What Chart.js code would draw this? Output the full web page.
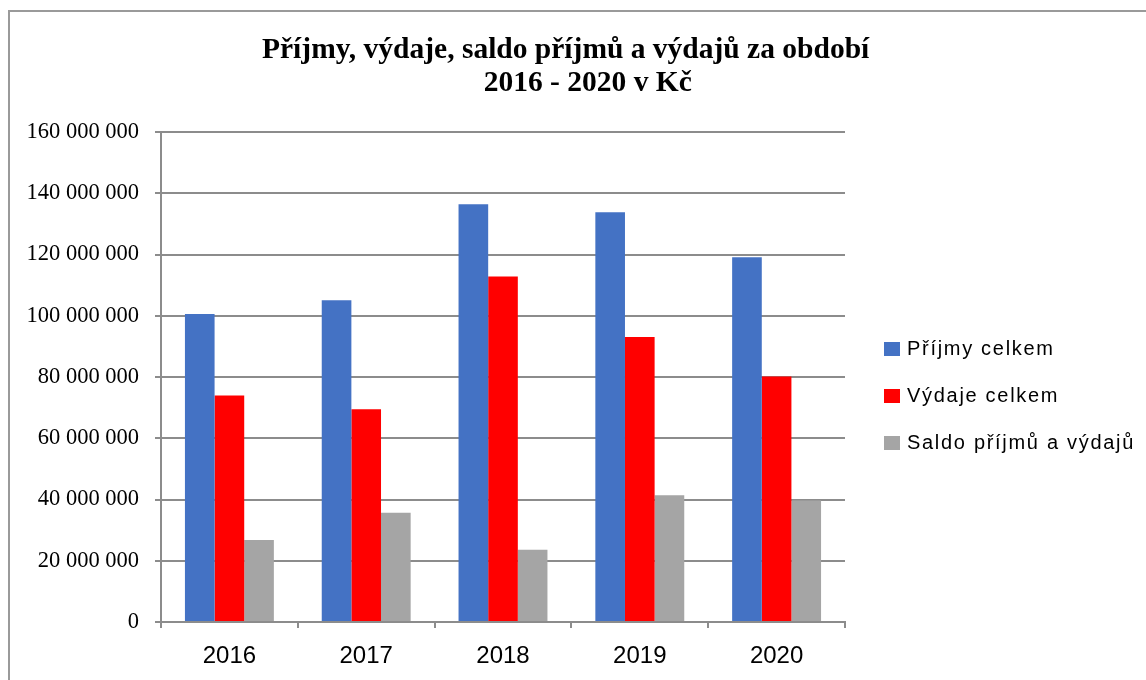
<!DOCTYPE html>
<html lang="cs">
<head>
<meta charset="utf-8">
<title>Příjmy, výdaje, saldo příjmů a výdajů 2016 - 2020</title>
<script src="https://cdn.jsdelivr.net/npm/chart.js@4.4.1/dist/chart.umd.min.js"></script>
<style>
  html, body { margin: 0; padding: 0; background: #fff; }
  #wrap { position: relative; width: 1146px; height: 680px; overflow: hidden; }
  #frame {
    position: absolute; left: 8px; top: 10px; width: 1200px; height: 700px;
    border-top: 2px solid #9a9a9a; border-left: 2px solid #9a9a9a;
  }
  #chart { position: absolute; left: 0; top: 0; }
  #legend {
    position: absolute; left: 884px; top: 325px;
    font-family: "Liberation Sans", Arial, sans-serif; font-size: 20px;
    letter-spacing: 1.7px; color: #000;
  }
  #legend .item { display: flex; align-items: center; height: 47px; white-space: nowrap; }
  #legend .box { width: 16px; height: 14px; margin-right: 7px; }
</style>
</head>
<body>
<div id="wrap">
  <div id="frame"></div>
  <canvas id="chart" width="1146" height="680"></canvas>
  <div id="legend"></div>
</div>
<script>
const TITLE_LINES = ['Příjmy, výdaje, saldo příjmů a výdajů za období', '2016 - 2020 v Kč'];
const YEARS = ['2016', '2017', '2018', '2019', '2020'];
const SERIES_NAMES = ['Příjmy celkem', 'Výdaje celkem', 'Saldo příjmů a výdajů'];
const PRIJMY = [100600000, 105100000, 136400000, 133800000, 119100000];
const VYDAJE = [74000000, 69500000, 112800000, 93100000, 80200000];
const SALDO = [26800000, 35700000, 23600000, 41400000, 39700000];
const Y_MIN = 0;
const Y_MAX = 160000000;
const Y_STEP = 20000000;

const COLORS = ['#4472C4', '#FF0000', '#A5A5A5'];
const AXIS_GRAY = '#8c8c8c';

function formatKc(v) {
  return String(v).replace(/\B(?=(\d{3})+(?!\d))/g, ' ');
}

function renderLegend(chart) {
  const el = document.getElementById('legend');
  el.innerHTML = chart.data.datasets.map(ds => `
    <div class="item"><span class="box" style="background:${ds.backgroundColor}"></span>${ds.label}</div>
  `).join('');
}

function initChart() {
  const canvas = document.getElementById('chart');
  const values = [PRIJMY, VYDAJE, SALDO];

  const chart = new Chart(canvas, {
    type: 'bar',
    data: {
      labels: YEARS,
      datasets: values.map((data, i) => ({
        label: SERIES_NAMES[i],
        data,
        backgroundColor: COLORS[i],
        borderWidth: 0,
        categoryPercentage: 0.65,
        barPercentage: 1.0,
      })),
    },
    options: {
      responsive: false,
      animation: false,
      devicePixelRatio: 1,
      layout: { padding: 0 },
      plugins: {
        legend: { display: false },
        tooltip: { enabled: false },
        title: {
          display: true,
          // trailing / leading spaces nudge the two lines like in the original
          text: [TITLE_LINES[0] + '  ', '    ' + TITLE_LINES[1]],
          color: '#000',
          font: { family: '"Liberation Serif", "Times New Roman", serif', size: 29.5, weight: 'bold', lineHeight: '33px' },
          padding: { top: 34, bottom: 32 },
        },
      },
      scales: {
        x: {
          grid: { display: true, drawOnChartArea: false, drawTicks: true, tickLength: 6, color: AXIS_GRAY, lineWidth: 2, offset: true },
          border: { display: true, color: AXIS_GRAY, width: 2 },
          ticks: { color: '#000', padding: 14, font: { family: '"Liberation Sans", Arial, sans-serif', size: 24 } },
          afterFit(scale) { scale.height = 58; },
        },
        y: {
          min: Y_MIN,
          max: Y_MAX,
          grid: { color: AXIS_GRAY, lineWidth: 2, drawTicks: true, tickLength: 6 },
          border: { display: true, color: AXIS_GRAY, width: 2 },
          ticks: {
            stepSize: Y_STEP,
            color: '#000',
            padding: 16,
            font: { family: '"Liberation Serif", "Times New Roman", serif', size: 22.5 },
            callback: v => formatKc(v),
          },
          afterFit(scale) { scale.width = 161; },
        },
        // empty right axis just reserves room for the legend
        yRight: {
          position: 'right',
          grid: { display: false },
          border: { display: false },
          ticks: { display: false },
          afterFit(scale) { scale.width = 1146 - 845; },
        },
      },
    },
  });

  renderLegend(chart);
}

document.addEventListener('DOMContentLoaded', initChart);
</script>
</body>
</html>
